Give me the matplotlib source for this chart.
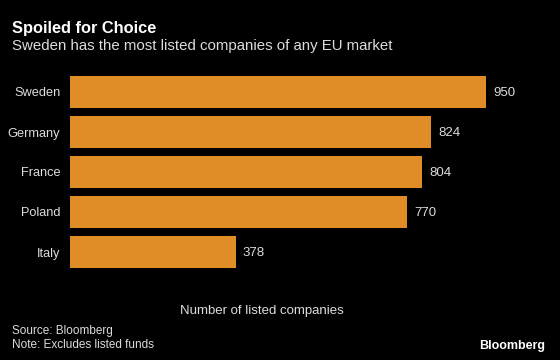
import matplotlib
matplotlib.use("Agg")
import matplotlib.pyplot as plt

countries = ["Sweden", "Germany", "France", "Poland", "Italy"]
listed = [950, 824, 804, 770, 378]

bar_color = "#E08C27"
text_color = "#DCDCDC"

plt.rcParams["font.family"] = ["Liberation Sans", "DejaVu Sans"]

fig = plt.figure(figsize=(5.6, 3.6), dpi=100, facecolor="black")
ax = fig.add_axes([70/560, 1 - 272/360, 460/560, 200/360], facecolor="black")

ypos = list(range(len(countries)))
ax.barh(ypos, listed, height=0.78, color=bar_color)
for y, v in zip(ypos, listed):
    ax.text(v + 16, y, str(v), color=text_color, fontsize=9.5,
            va="center_baseline", ha="left")

ax.set_xlim(0, 1050)
ax.set_ylim(len(countries) - 0.5, -0.5)
ax.set_yticks(ypos)
ax.set_yticklabels(countries, color=text_color, fontsize=9.2)
ax.tick_params(axis="y", length=0, pad=7)
ax.set_xticks([])
for sp in ax.spines.values():
    sp.set_visible(False)

fig.text(12/560, 1 - 28/360, "Spoiled for Choice", color="white", fontsize=11.8,
         fontweight="bold", va="center")
fig.text(12/560, 1 - 46/360, "Sweden has the most listed companies of any EU market",
         color=text_color, fontsize=10.8, va="center")
fig.text(262/560, 1 - 311/360, "Number of listed companies", color=text_color,
         fontsize=9.5, ha="center", va="center")
fig.text(12/560, 1 - 331/360, "Source: Bloomberg", color=text_color, fontsize=8.5, va="center")
fig.text(12/560, 1 - 345/360, "Note: Excludes listed funds", color=text_color, fontsize=8.5, va="center")
fig.text(545/560, 1 - 346/360, "Bloomberg", color="white", fontsize=9, fontweight="bold",
         ha="right", va="center")

fig.savefig("out.png", dpi=100, facecolor="black")
